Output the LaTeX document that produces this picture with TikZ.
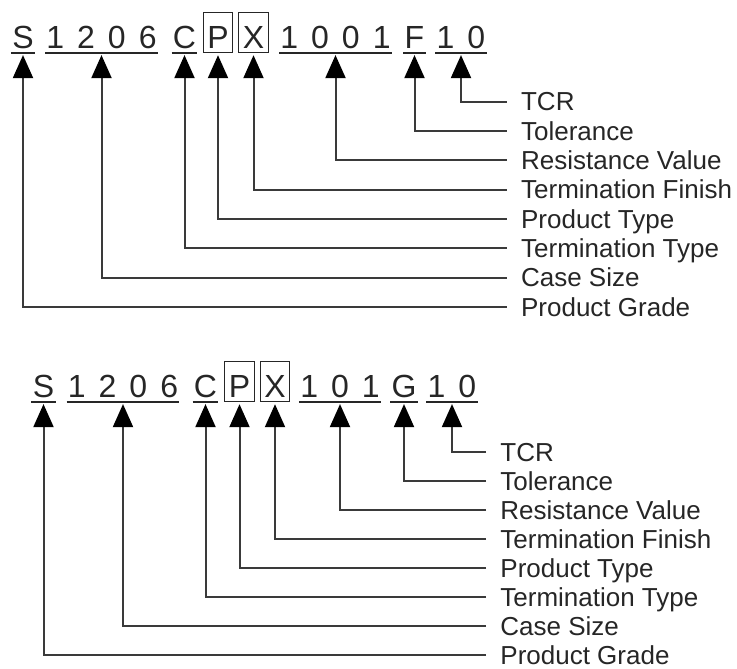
\documentclass[tikz,border=0pt]{standalone}
\usepackage{fontspec}
\setmainfont{Liberation Sans}
\usetikzlibrary{arrows.meta,positioning}
\definecolor{linegray}{RGB}{58,58,58}
\definecolor{textgray}{RGB}{38,38,38}
\newcommand\codefont{\fontsize{16}{18}\selectfont\spaceskip=6.5pt\relax}
\newcommand\labelfont{\fontsize{13}{15}\selectfont}

\begin{document}
\begin{tikzpicture}[
  x=0.5pt, y=-0.5pt,
  seg/.style={anchor=base, inner xsep=0.5pt, inner ysep=0pt, text height=18pt, text depth=2pt, font=\codefont, text=textgray},
  boxseg/.style={seg, draw=textgray, line width=0.5pt, inner xsep=2pt},
  uline/.style={draw=textgray, line width=0.75pt},
  lbl/.style={anchor=west, inner xsep=7pt, inner ysep=0pt, text height=9.3pt, text depth=0pt, font=\labelfont, text=textgray},
  arr/.style={-{Triangle[width=10pt,length=11.5pt,color=black]}, draw=linegray, line width=1pt, shorten >=1pt}
]
\useasboundingbox (0,0) rectangle (737,668);

% first code: S1206CPX1001F10
\node[seg] (s1) at (23,48.7) {S};
\node[seg] (cs1) at (101.5,48.7) {1 2 0 6};
\node[seg] (tt1) at (184.5,48.7) {C};
\node[boxseg] (pt1) at (218,48.7) {P};
\node[boxseg] (tf1) at (253.5,48.7) {X};
\node[seg] (rv1) at (335.5,48.7) {1 0 0 1};
\node[seg] (tol1) at (414.5,48.7) {F};
\node[seg] (tcr1) at (461,48.7) {1 0};

\node[lbl] (tcrtxt1) at (506.7,101.7) {TCR};
\node[lbl] (toltxt1) at (506.7,131.0) {Tolerance};
\node[lbl] (rvtxt1) at (506.7,160.3) {Resistance Value};
\node[lbl] (tftxt1) at (506.7,189.6) {Termination Finish};
\node[lbl] (pttxt1) at (506.7,218.9) {Product Type};
\node[lbl] (tttxt1) at (506.7,248.2) {Termination Type};
\node[lbl] (cstxt1) at (506.7,277.5) {Case Size};
\node[lbl] (pgtxt1) at (506.7,306.8) {Product Grade};

% second code: S1206CPX101G10
\node[seg] (s2) at (43.5,397.7) {S};
\node[seg] (cs2) at (123,397.7) {1 2 0 6};
\node[seg] (tt2) at (205.5,397.7) {C};
\node[boxseg] (pt2) at (239.5,397.7) {P};
\node[boxseg] (tf2) at (275,397.7) {X};
\node[seg] (rv2) at (340,397.7) {1 0 1};
\node[seg] (tol2) at (404,397.7) {G};
\node[seg] (tcr2) at (452,397.7) {1 0};

\node[lbl] (tcrtxt2) at (486,451.7) {TCR};
\node[lbl] (toltxt2) at (486,480.8) {Tolerance};
\node[lbl] (rvtxt2) at (486,509.8) {Resistance Value};
\node[lbl] (tftxt2) at (486,538.9) {Termination Finish};
\node[lbl] (pttxt2) at (486,567.9) {Product Type};
\node[lbl] (tttxt2) at (486,597.0) {Termination Type};
\node[lbl] (cstxt2) at (486,626.0) {Case Size};
\node[lbl] (pgtxt2) at (486,655.1) {Product Grade};

% underlines
\foreach \n in {s1,cs1,tt1,rv1,tol1,tcr1,s2,cs2,tt2,rv2,tol2,tcr2}
  \draw[uline] (\n.south west) -- (\n.south east);

% connectors
\foreach \a/\b in {tcrtxt1/tcr1,toltxt1/tol1,rvtxt1/rv1,tftxt1/tf1,pttxt1/pt1,tttxt1/tt1,cstxt1/cs1,pgtxt1/s1,
                   tcrtxt2/tcr2,toltxt2/tol2,rvtxt2/rv2,tftxt2/tf2,pttxt2/pt2,tttxt2/tt2,cstxt2/cs2,pgtxt2/s2}
  \draw[arr] (\a.west) -| (\b.south);
\end{tikzpicture}
\end{document}
